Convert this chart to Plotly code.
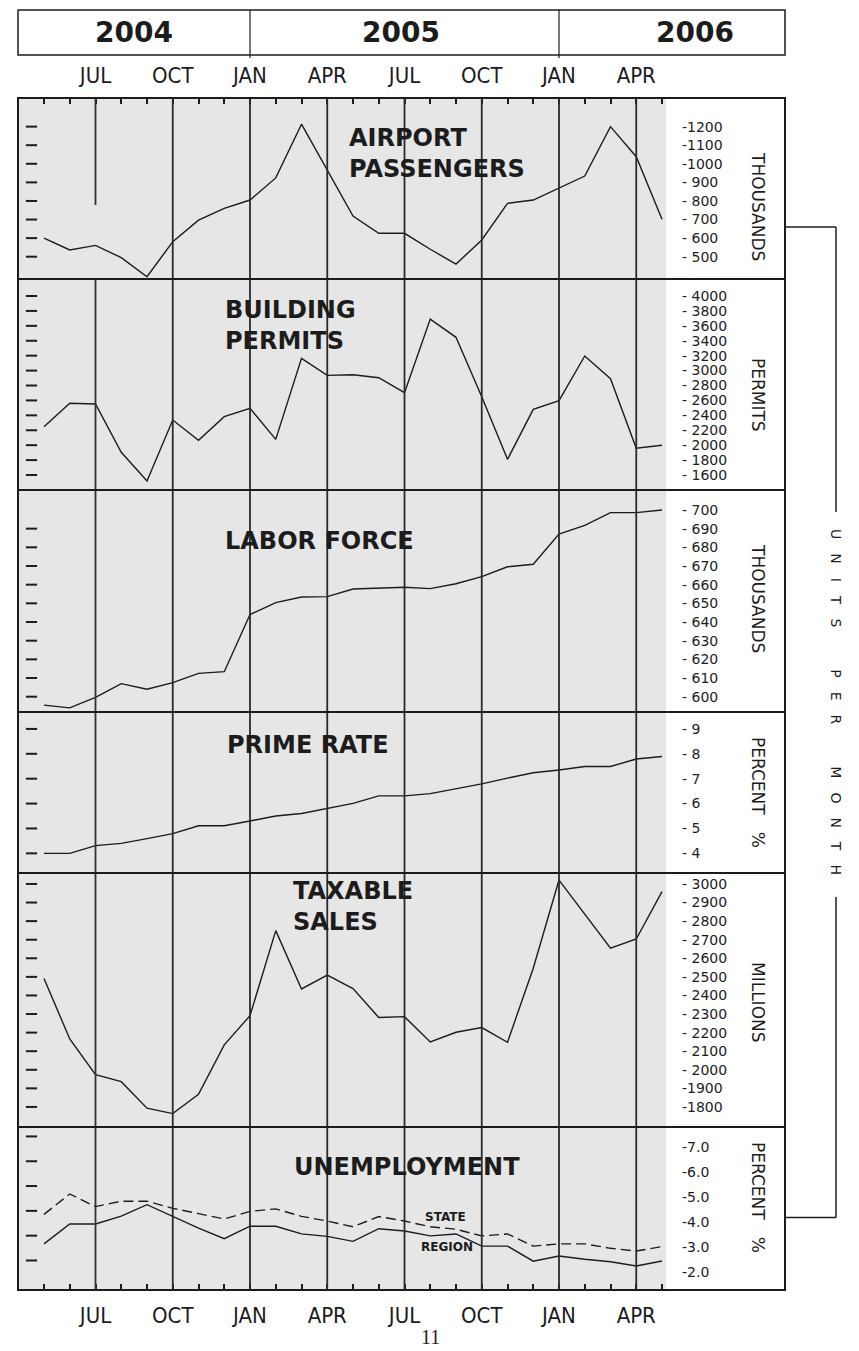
import plotly.graph_objects as go

# ---------------- data ----------------
months = ["MAY", "JUN", "JUL", "AUG", "SEP", "OCT", "NOV", "DEC",
          "JAN", "FEB", "MAR", "APR", "MAY", "JUN", "JUL", "AUG", "SEP", "OCT", "NOV", "DEC",
          "JAN", "FEB", "MAR", "APR", "MAY"]
year_labels = ["2004", "2005", "2006"]
quarter_months = ["JAN", "APR", "JUL", "OCT"]

airport = [600, 536, 561, 495, 392, 581, 697, 760, 805, 924, 1213, 965, 719,
           626, 626, 540, 460, 590, 787, 805, 868, 934, 1200, 1038, 701]
permits = [2248, 2561, 2552, 1904, 1520, 2337, 2065, 2382, 2494, 2078, 3164, 2936, 2945,
           2905, 2704, 3690, 3446, 2650, 1810, 2480, 2597, 3196, 2892, 1958, 1998]
labor = [595.5, 594, 599.6, 607, 604, 607.5, 612.5, 613.4, 644, 650.4, 653.4, 653.6, 657.7,
         658.2, 658.6, 657.9, 660.5, 664.3, 669.6, 670.9, 687.1, 691.8, 698.6, 698.6, 700]
prime = [4.0, 4.0, 4.31, 4.4, 4.59, 4.79, 5.11, 5.11, 5.3, 5.5, 5.6, 5.8, 6.01,
         6.31, 6.31, 6.4, 6.59, 6.79, 7.02, 7.24, 7.35, 7.49, 7.49, 7.79, 7.89]
taxable = [2491, 2166, 1974, 1936, 1793, 1764, 1868, 2134, 2291, 2749, 2435, 2510, 2437,
           2281, 2286, 2150, 2202, 2227, 2148, 2546, 3021, 2835, 2654, 2704, 2959]
unemp_state = [4.31, 5.13, 4.62, 4.84, 4.84, 4.55, 4.34, 4.12, 4.43, 4.53, 4.23, 4.04, 3.81,
               4.22, 4.04, 3.81, 3.71, 3.44, 3.52, 3.03, 3.12, 3.12, 2.94, 2.83, 3.01]
unemp_region = [3.12, 3.92, 3.92, 4.24, 4.70, 4.22, 3.75, 3.33, 3.83, 3.83, 3.52, 3.42, 3.22,
                3.73, 3.64, 3.44, 3.52, 3.03, 3.03, 2.42, 2.63, 2.50, 2.40, 2.23, 2.43]

airport_ticks = [1200, 1100, 1000, 900, 800, 700, 600, 500]
permit_ticks = [4000, 3800, 3600, 3400, 3200, 3000, 2800, 2600, 2400, 2200, 2000, 1800, 1600]
labor_ticks = [700, 690, 680, 670, 660, 650, 640, 630, 620, 610, 600]
prime_ticks = [9, 8, 7, 6, 5, 4]
taxable_ticks = [3000, 2900, 2800, 2700, 2600, 2500, 2400, 2300, 2200, 2100, 2000, 1900, 1800]
unemp_ticks = [7.0, 6.0, 5.0, 4.0, 3.0, 2.0]
unemp_left_dashes = [7.45, 6.45, 5.45, 4.45, 3.45, 2.45]

airport_labels = [("-%d" % v) if v >= 1000 else ("- %d" % v) for v in airport_ticks]
permit_labels = ["- %d" % v for v in permit_ticks]
labor_labels = ["- %d" % v for v in labor_ticks]
prime_labels = ["- %d" % v for v in prime_ticks]
taxable_labels = [("- %d" % v) if v >= 2000 else ("-%d" % v) for v in taxable_ticks]
unemp_labels = ["-%.1f" % v for v in unemp_ticks]

# ---------------- geometry (pixels of the 859x1351 page) ----------------
PAGE_W, PAGE_H = 859, 1351
BODY = 8                       # default body margin of the html page
FIG_W, FIG_H = PAGE_W - BODY, PAGE_H - BODY
L, R, T, B = 18, 785, 98, 1290  # plot frame in page pixels
W, H = R - L, B - T
GRAY_R = 666
X0_PX, DX_PX = 44, 25.75          # pixel of first month, pixels per month
bounds = [98, 279, 490, 712, 873, 1127, 1290]


def px_x(p):
    return (p - L) / W


def px_y(p):
    return (B - p) / H


x_idx = list(range(len(months)))
x_range = [(L - X0_PX) / DX_PX, (GRAY_R - X0_PX) / DX_PX]
tick_text = [m if m in quarter_months else "" for m in months]
quarter_idx = [i for i, m in enumerate(months) if m in quarter_months]
jan_idx = [i for i, m in enumerate(months) if m == "JAN"]
dash_x = (31.5 - X0_PX) / DX_PX

INK = "#1c1c1c"
GRAY = "#e6e6e6"
TITLE_FONT = dict(family="DejaVu Sans", size=24, color=INK, weight="bold")
TICK_FONT = dict(family="DejaVu Sans", size=14, color=INK)
UNIT_FONT = dict(family="DejaVu Sans", size=17, color=INK)
MONTH_FONT = dict(family="Liberation Sans Narrow, DejaVu Sans Condensed, sans-serif", size=22, color=INK)

panels = [
    dict(series=[airport], ticks=airport_ticks, labels=airport_labels, left=airport_ticks,
         rng=[380, 1354], unit="THOUSANDS", unit_y=206,
         title="AIRPORT<br>PASSENGERS", tx=347, ty=153),
    dict(series=[permits], ticks=permit_ticks, labels=permit_labels, left=permit_ticks,
         rng=[1399, 4228], unit="PERMITS", unit_y=395,
         title="BUILDING<br>PERMITS", tx=223, ty=325),
    dict(series=[labor], ticks=labor_ticks, labels=labor_labels, left=labor_ticks[1:],
         rng=[591.8, 710.7], unit="THOUSANDS", unit_y=598,
         title="LABOR FORCE", tx=223, ty=541),
    dict(series=[prime], ticks=prime_ticks, labels=prime_labels, left=prime_ticks,
         rng=[3.21, 9.68], unit="PERCENT\u2003%", unit_y=792,
         title="PRIME RATE", tx=225, ty=745),
    dict(series=[taxable], ticks=taxable_ticks, labels=taxable_labels, left=taxable_ticks,
         rng=[1692, 3059], unit="MILLIONS", unit_y=1002,
         title="TAXABLE<br>SALES", tx=291, ty=906),
    dict(series=[unemp_state, unemp_region], ticks=unemp_ticks, labels=unemp_labels,
         left=unemp_left_dashes, rng=[1.26, 7.83], unit="PERCENT\u2003%", unit_y=1197,
         title="UNEMPLOYMENT", tx=292, ty=1167),
]

fig = go.Figure()
layout = dict(
    width=FIG_W, height=FIG_H, autosize=False,
    margin=dict(l=L - BODY, r=PAGE_W - R, t=T - BODY, b=PAGE_H - B, pad=0),
    paper_bgcolor="white", plot_bgcolor=GRAY,
    showlegend=False, hovermode=False,
)
annotations = []
shapes = []

for k, p in enumerate(panels, start=1):
    sfx = "" if k == 1 else str(k)
    xid, yid = "x" + sfx, "y" + sfx
    xa = dict(domain=[0, px_x(GRAY_R)], range=x_range, anchor=yid, showgrid=False,
              zeroline=False, showline=False, fixedrange=True, tickvals=x_idx,
              ticktext=tick_text, ticks="", showticklabels=False)
    if k == 1:
        xa.update(side="top", ticks="inside", ticklen=6, tickwidth=1.5, tickcolor=INK,
                  showticklabels=True, tickfont=MONTH_FONT, ticklabelstandoff=10)
    if k == len(panels):
        xa.update(side="bottom", ticks="inside", ticklen=6, tickwidth=1.5, tickcolor=INK,
                  showticklabels=True, tickfont=MONTH_FONT, ticklabelstandoff=10)
    ya = dict(domain=[px_y(bounds[k]), px_y(bounds[k - 1])], range=p["rng"], anchor=xid,
              side="right", tickvals=p["ticks"], ticktext=p["labels"], ticks="",
              showgrid=False, zeroline=False, showline=False, fixedrange=True,
              tickfont=TICK_FONT, ticklabelstandoff=15)
    layout["xaxis" + sfx] = xa
    layout["yaxis" + sfx] = ya

    # data lines
    for j, s in enumerate(p["series"]):
        dash = "10px,5px" if (k == 6 and j == 0) else "solid"
        fig.add_trace(go.Scatter(x=x_idx, y=s, mode="lines", xaxis=xid, yaxis=yid,
                                 line=dict(color=INK, width=1.4, dash=dash)))
    # left-hand tick dashes
    fig.add_trace(go.Scatter(x=[dash_x] * len(p["left"]), y=p["left"], mode="markers",
                             xaxis=xid, yaxis=yid,
                             marker=dict(symbol="line-ew", size=8, color=INK,
                                         line=dict(width=2, color=INK))))
    # panel title
    annotations.append(dict(text=p["title"], xref="paper", yref="paper", x=px_x(p["tx"]),
                            y=px_y(p["ty"]), xanchor="left", yanchor="middle", align="left",
                            showarrow=False, font=TITLE_FONT))
    # unit label
    annotations.append(dict(text=p["unit"], xref="paper", yref="paper", x=px_x(758),
                            y=px_y(p["unit_y"]), textangle=90, showarrow=False,
                            xanchor="center", yanchor="middle", font=UNIT_FONT))

# STATE / REGION labels
annotations.append(dict(text="STATE", xref="x6", yref="y6", x=15.6, y=4.19, showarrow=False,
                        font=dict(family="DejaVu Sans", size=12, color=INK, weight="bold")))
annotations.append(dict(text="REGION", xref="x6", yref="y6", x=15.65, y=3.01, showarrow=False,
                        font=dict(family="DejaVu Sans", size=12, color=INK, weight="bold")))

# year header
HEAD_TOP, HEAD_BOT = 10, 55
year_centers_px = [134, 401, 695]
for lab, cx in zip(year_labels, year_centers_px):
    annotations.append(dict(text=lab, xref="paper", yref="paper", x=px_x(cx),
                            y=px_y((HEAD_TOP + HEAD_BOT) / 2),
                            showarrow=False, xanchor="center", yanchor="middle",
                            font=dict(family="DejaVu Sans", size=28, color=INK, weight="bold")))
shapes.append(dict(type="rect", xref="paper", yref="paper", x0=0, x1=1,
                   y0=px_y(HEAD_BOT), y1=px_y(HEAD_TOP), line=dict(color=INK, width=1.5)))
for j in jan_idx:
    shapes.append(dict(type="line", xref="x", yref="paper", x0=j, x1=j, y0=px_y(58),
                       y1=px_y(HEAD_TOP), line=dict(color=INK, width=1.2)))

# vertical quarter lines through all panels
for n, q in enumerate(quarter_idx):
    if n == 0:
        shapes.append(dict(type="line", xref="x", yref="paper", x0=q, x1=q, y0=0, y1=px_y(279),
                           line=dict(color="#333333", width=1.8)))
        shapes.append(dict(type="line", xref="x", yref="paper", x0=q, x1=q, y0=px_y(205), y1=1,
                           line=dict(color="#333333", width=1.8)))
    else:
        shapes.append(dict(type="line", xref="x", yref="paper", x0=q, x1=q, y0=0, y1=1,
                           line=dict(color="#2a2a2a", width=1.8)))

# panel separators and frame
for b in bounds[1:-1]:
    shapes.append(dict(type="line", xref="paper", yref="paper", x0=0, x1=1, y0=px_y(b), y1=px_y(b),
                       line=dict(color=INK, width=2)))
shapes.append(dict(type="rect", xref="paper", yref="paper", x0=0, x1=1, y0=0, y1=1,
                   line=dict(color=INK, width=2)))

# bracket with "UNITS PER MONTH"
bx = px_x(836)
for seg in [((1, px_y(227)), (bx, px_y(227))),
            ((bx, px_y(227)), (bx, px_y(512))),
            ((bx, px_y(897)), (bx, px_y(1217.5))),
            ((bx, px_y(1217.5)), (1, px_y(1217.5)))]:
    (xa0, ya0), (xa1, ya1) = seg
    shapes.append(dict(type="line", xref="paper", yref="paper", x0=xa0, y0=ya0, x1=xa1, y1=ya1,
                       line=dict(color=INK, width=1.5)))
sp = "\u2003"
units_text = (sp.join("UNITS") + sp * 3 + sp.join("PER") + sp * 3 + sp.join("MONTH"))
annotations.append(dict(text=units_text, xref="paper", yref="paper", x=bx, y=px_y(702),
                        textangle=90, showarrow=False, xanchor="center", yanchor="middle",
                        font=dict(family="DejaVu Sans", size=14, color=INK)))

# page number
annotations.append(dict(text="11", xref="paper", yref="paper", x=px_x(430), y=px_y(1337),
                        showarrow=False, xanchor="center", yanchor="middle",
                        font=dict(family="Liberation Serif", size=20, color=INK)))

layout["annotations"] = annotations
layout["shapes"] = shapes
fig.update_layout(**layout)
fig.write_html("out.html")
